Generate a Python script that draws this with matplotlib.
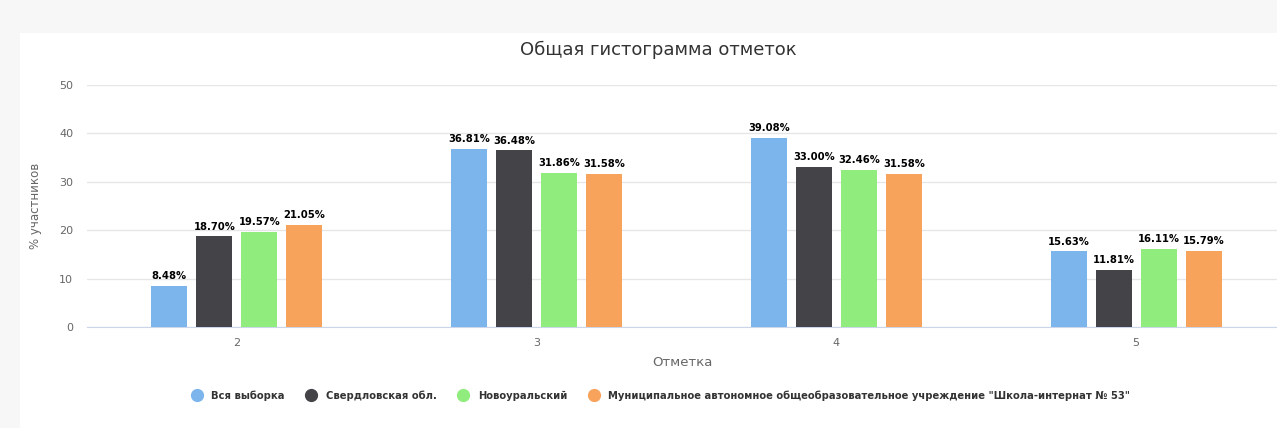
import numpy as np
import matplotlib.pyplot as plt
from matplotlib.patches import Rectangle
from matplotlib.lines import Line2D
from matplotlib.font_manager import FontProperties

categories = ['2', '3', '4', '5']
series_names = ['Вся выборка', 'Свердловская обл.', 'Новоуральский',
                'Муниципальное автономное общеобразовательное учреждение "Школа-интернат № 53"']
vsya = [8.48, 36.81, 39.08, 15.63]
sverdl = [18.70, 36.48, 33.00, 11.81]
novour = [19.57, 31.86, 32.46, 16.11]
school = [21.05, 31.58, 31.58, 15.79]
values = [vsya, sverdl, novour, school]
colors = ['#7cb5ec', '#434348', '#90ed7d', '#f7a35c']

plt.rcParams['font.family'] = ['DejaVu Sans']

fig = plt.figure(figsize=(12.77, 4.28), dpi=100)
fig.patch.set_facecolor('#f7f7f7')
card = Rectangle((20/1277, 0), 1, (428-33)/428, transform=fig.transFigure,
                 facecolor='white', edgecolor='none', zorder=-10)
fig.add_artist(card)

ax = fig.add_axes([87/1277, (428-327)/428, (1277-87)/1277, (327-85)/428])
ax.set_facecolor('none')

labfont = FontProperties(family='DejaVu Sans', stretch='condensed', weight='bold', size=8)

x = np.arange(len(categories))
step = 0.15
width = 0.12
for i, (vals, c, name) in enumerate(zip(values, colors, series_names)):
    pos = x + (i - 1.5) * step
    ax.bar(pos, vals, width=width, color=c, zorder=3)
    for p, v in zip(pos, vals):
        ax.text(p, v + 1.0, f'{v:.2f}%', ha='center', va='bottom',
                fontproperties=labfont, color='#000000', zorder=4)

ax.set_ylim(0, 50)
ax.set_xlim(-0.5, 3.47)
ax.set_yticks(range(0, 51, 10))
ax.set_xticks(x)
ax.set_xticklabels(categories)
ax.grid(axis='y', color='#e6e6e6', linewidth=1, zorder=0)
for s in ['top', 'right', 'left']:
    ax.spines[s].set_visible(False)
ax.spines['bottom'].set_color('#ccd6eb')
ax.tick_params(axis='both', length=0, colors='#666666', labelsize=8)
ax.tick_params(axis='x', pad=8)
ax.tick_params(axis='y', pad=10)

ax.set_ylabel('% участников', color='#666666', fontsize=8.5, labelpad=12)
ax.set_xlabel('Отметка', color='#666666', fontsize=9.5, labelpad=6)
fig.text(658/1277, 1 - 50/428, 'Общая гистограмма отметок', ha='center', va='center',
         fontsize=13, color='#333333')

handles = [Line2D([0], [0], marker='o', linestyle='none', markersize=8.5,
                  markerfacecolor=c, markeredgecolor=c) for c in colors]
legfont = FontProperties(family='DejaVu Sans', stretch='condensed', weight='bold', size=8)
leg = fig.legend(handles, series_names, loc='center', bbox_to_anchor=(658/1277, 1 - 396/428),
                 ncol=4, frameon=False, prop=legfont, handletextpad=0.3, columnspacing=1.4)
for t in leg.get_texts():
    t.set_color('#333333')

fig.savefig('out.png', dpi=100, facecolor=fig.get_facecolor())
